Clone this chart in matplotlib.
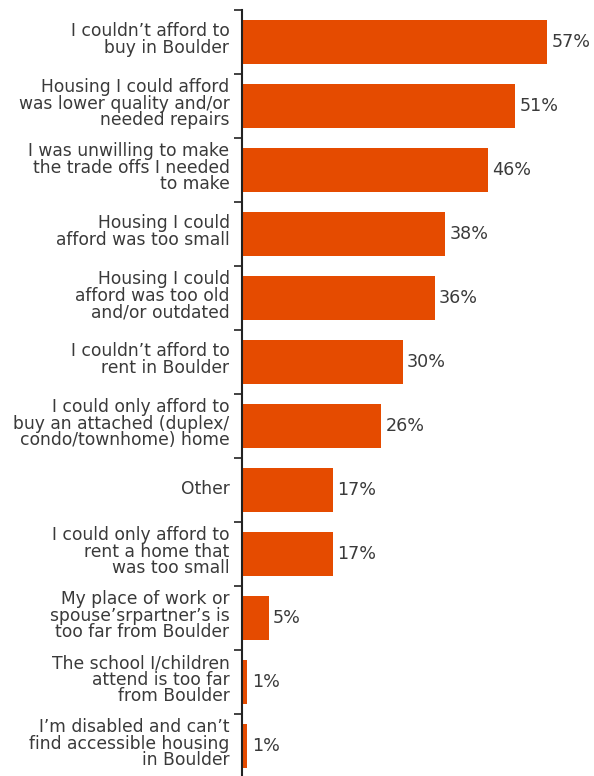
import matplotlib.pyplot as plt
import matplotlib.transforms as mtransforms

reasons = [
    "I couldn\u2019t afford to\nbuy in Boulder",
    "Housing I could afford\nwas lower quality and/or\nneeded repairs",
    "I was unwilling to make\nthe trade offs I needed\nto make",
    "Housing I could\nafford was too small",
    "Housing I could\nafford was too old\nand/or outdated",
    "I couldn\u2019t afford to\nrent in Boulder",
    "I could only afford to\nbuy an attached (duplex/\ncondo/townhome) home",
    "Other",
    "I could only afford to\nrent a home that\nwas too small",
    "My place of work or\nspouse\u2019srpartner\u2019s is\ntoo far from Boulder",
    "The school I/children\nattend is too far\nfrom Boulder",
    "I\u2019m disabled and can\u2019t\nfind accessible housing\nin Boulder",
]
pcts = [57, 51, 46, 38, 36, 30, 26, 17, 17, 5, 1, 1]

bar_color = '#E54B00'
text_color = '#3a3a3a'

fig = plt.figure(figsize=(5.94, 7.76), dpi=100)
ax = fig.add_axes([242 / 594, -2 / 776, 350 / 594, 768 / 776])

y = range(len(reasons))
ax.barh(y, pcts, height=0.69, color=bar_color)

# percentage labels at the end of each bar
for i, p in enumerate(pcts):
    ax.text(p + 0.8, i, f"{p}%", va='center', ha='left',
            fontsize=12.6, color=text_color)

ax.set_ylim(len(reasons) - 0.5, -0.5)
ax.set_xlim(0, 65.4)

ax.set_yticks(list(y))
ax.set_yticklabels(reasons, fontsize=12.3, color=text_color, linespacing=0.9)
ax.tick_params(axis='y', which='major', length=0, pad=9)
# nudge the category labels up a little
shift = mtransforms.ScaledTranslation(0, 0.035, fig.dpi_scale_trans)
for lbl in ax.get_yticklabels():
    lbl.set_transform(lbl.get_transform() + shift)

ax.set_yticks([i - 0.5 for i in range(len(reasons) + 1)], minor=True)
ax.tick_params(axis='y', which='minor', length=6, width=1.2, color='#222222')
ax.set_xticks([])

for side in ['top', 'right', 'bottom']:
    ax.spines[side].set_visible(False)
ax.spines['left'].set_linewidth(1.5)
ax.spines['left'].set_color('#222222')

fig.savefig('out.png', dpi=100)
